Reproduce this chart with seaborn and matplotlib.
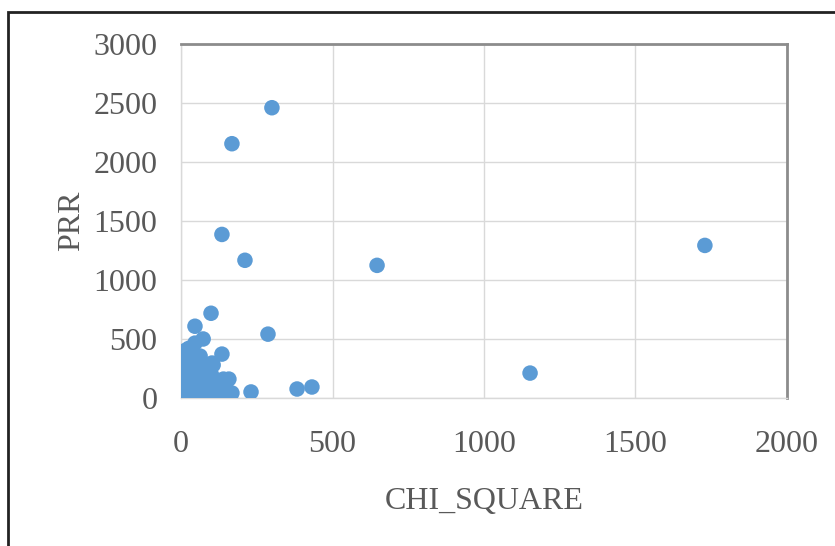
import pandas as pd
import matplotlib.pyplot as plt
import seaborn as sns
from matplotlib.patches import Rectangle

# Values (CHI_SQUARE, PRR)
chi_outliers = [300, 168, 135, 211, 647, 1729, 1152, 99, 46, 287, 73, 46, 135,
                383, 432, 231, 168, 158, 106, 63, 102, 152]
prr_outliers = [2460, 2155, 1386, 1167, 1124, 1293, 211, 718, 608, 541, 500, 465, 372,
                76, 93, 51, 42, 160, 280, 355, 296, 152]

chi_cluster = [5, 8, 3, 10, 6, 12, 15, 20, 25, 30, 18, 22, 28, 35, 40, 2, 10, 15, 30, 50,
               60, 70, 80, 90, 100, 110, 120, 130, 140, 45, 55, 65, 75, 85, 95, 105, 115,
               38, 48, 58, 68, 78, 88, 50, 42, 60, 33, 25, 12, 90, 100, 110, 125, 145, 150,
               140, 4, 7, 20]
prr_cluster = [20, 60, 120, 180, 240, 300, 350, 380, 330, 270, 210, 150, 90, 40, 10, 5, 10,
               0, 5, 15, 30, 10, 20, 5, 25, 15, 40, 10, 30, 80, 120, 60, 100, 70, 130, 90, 60,
               190, 240, 180, 210, 150, 190, 300, 340, 260, 380, 420, 400, 250, 200, 130, 110,
               90, 50, 160, 280, 330, 40]

df = pd.DataFrame({
    "CHI_SQUARE": chi_outliers + chi_cluster,
    "PRR": prr_outliers + prr_cluster,
})

sns.set_style("white")
plt.rcParams['font.family'] = ['Liberation Serif', 'DejaVu Serif']

fig = plt.figure(figsize=(8.35, 5.46), dpi=100)
ax = fig.add_axes([0.2168, 0.2711, 0.7257, 0.6483])

sns.scatterplot(data=df, x="CHI_SQUARE", y="PRR", ax=ax, s=125,
                color="#5B9BD5", edgecolor="none", zorder=3)

ax.set_xlim(0, 2000)
ax.set_ylim(0, 3000)
ax.set_xticks([0, 500, 1000, 1500, 2000])
ax.set_yticks([0, 500, 1000, 1500, 2000, 2500, 3000])
ax.grid(True, color="#d9d9d9", linewidth=1)
ax.set_axisbelow(True)
ax.tick_params(length=0, labelsize=23, labelcolor="#595959")
ax.tick_params(axis="y", pad=17)
ax.tick_params(axis="x", pad=23)

for side in ["left", "bottom"]:
    ax.spines[side].set_color("#d9d9d9")
    ax.spines[side].set_linewidth(1)
for side in ["top", "right"]:
    ax.spines[side].set_visible(True)
    ax.spines[side].set_color("#8c8c8c")
    ax.spines[side].set_linewidth(2)

ax.set_xlabel("CHI_SQUARE", fontsize=23, color="#595959", labelpad=20)
ax.set_ylabel("PRR", fontsize=23, color="#595959", labelpad=5)

# outer frame (cropped at right and bottom)
fig.patches.append(Rectangle((8 / 835, -0.05), 1.1, 0.05 + 1 - 12 / 546,
                             transform=fig.transFigure, fill=False,
                             edgecolor="#222222", linewidth=2))

plt.savefig("out.png", dpi=100)
